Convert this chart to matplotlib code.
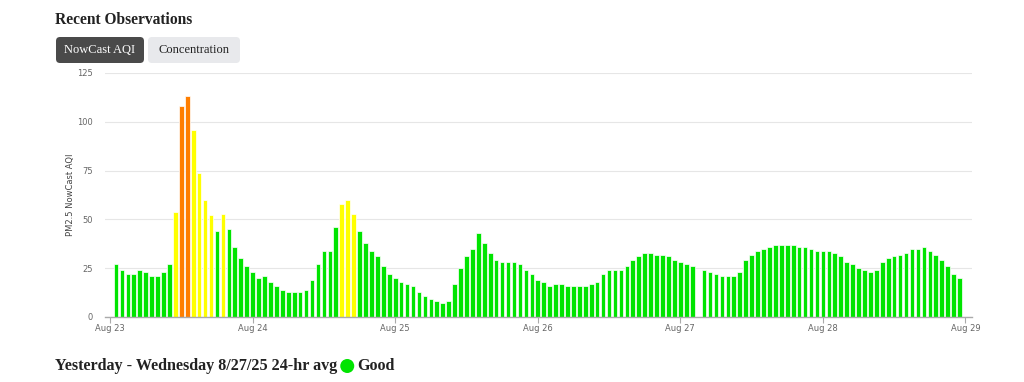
import matplotlib.pyplot as plt
from matplotlib.patches import FancyBboxPatch, Circle
import numpy as np

# Hourly NowCast AQI, hour 1 .. 143 after Aug 23 00:00 (None = missing hour)
aqi = [27, 24, 22, 22, 24, 23, 21, 21, 23, 27,
       54, 108, 113, 96, 74, 60, 52, 44, 53, 45,
       36, 30, 26, 23, 20, 21, 18, 16, 14, 13,
       13, 13, 14, 19, 27, 34, 34, 46, 58, 60,
       53, 44, 38, 34, 31, 26, 22, 20, 18, 17,
       16, 13, 11, 9, 8, 7, 8, 17, 25, 31,
       35, 43, 38, 33, 29, 28, 28, 28, 27, 24,
       22, 19, 18, 16, 17, 17, 16, 16, 16, 16,
       17, 18, 22, 24, 24, 24, 26, 29, 31, 33,
       33, 32, 32, 31, 29, 28, 27, 26, None, 24,
       23, 22, 21, 21, 21, 23, 29, 32, 34, 35,
       36, 37, 37, 37, 37, 36, 36, 35, 34, 34,
       34, 33, 31, 28, 27, 25, 24, 23, 24, 28,
       30, 31, 32, 33, 35, 35, 36, 34, 32, 29,
       26, 22, 20]
hours = list(range(1, len(aqi) + 1))
day_labels = ["Aug 23", "Aug 24", "Aug 25", "Aug 26", "Aug 27", "Aug 28", "Aug 29"]
y_ticks = [0, 25, 50, 75, 100, 125]

def aqi_color(v):
    if v <= 50:
        return "#00e400"
    if v <= 100:
        return "#ffff00"
    return "#ff7e00"

xs = [h for h, v in zip(hours, aqi) if v is not None]
vs = [v for v in aqi if v is not None]
cols = [aqi_color(v) for v in vs]

W, H = 1024, 382
fig = plt.figure(figsize=(W / 100, H / 100), dpi=100)

def fx(px):
    return px / W

def fy(py):
    return 1 - py / H

serif = "Liberation Serif"

# Title
fig.text(fx(55), fy(20), "Recent Observations", fontsize=11.2, fontweight="bold",
         family=serif, color="#222222", va="center", ha="left")

# Buttons
btn1 = FancyBboxPatch((0.56, (H - 63) / 100), 0.88, 0.26,
                      boxstyle="round,pad=0,rounding_size=0.04",
                      transform=fig.dpi_scale_trans, fc="#4a4a4a", ec="none")
btn2 = FancyBboxPatch((1.48, (H - 63) / 100), 0.92, 0.26,
                      boxstyle="round,pad=0,rounding_size=0.04",
                      transform=fig.dpi_scale_trans, fc="#e8e9ec", ec="none")
fig.patches.extend([btn1, btn2])
fig.text(fx(100), fy(50), "NowCast AQI", fontsize=9, family=serif,
         color="white", ha="center", va="center")
fig.text(fx(194), fy(50), "Concentration", fontsize=9, family=serif,
         color="#222222", ha="center", va="center")

# Chart
ax = fig.add_axes([fx(105), fy(317), fx(972) - fx(105), fy(73) - fy(317)])
ax.bar(xs, vs, width=0.78, color=cols, edgecolor="white", linewidth=0.5, zorder=3)
ax.set_xlim(-0.85, 145.1)
ax.set_ylim(0, 125)
ax.set_yticks(y_ticks)
ax.set_yticklabels([str(t) for t in y_ticks])
ax.set_xticks([24 * i for i in range(len(day_labels))])
ax.set_xticklabels(day_labels)
ax.grid(axis="y", color="#e6e6e6", linewidth=0.8, zorder=0)
for side in ["top", "right", "left"]:
    ax.spines[side].set_visible(False)
ax.spines["bottom"].set_color("#aaaaaa")
ax.spines["bottom"].set_linewidth(1)
ax.spines["bottom"].set_zorder(4)
ax.tick_params(axis="y", length=0, pad=9, labelsize=6, labelcolor="#666666")
ax.tick_params(axis="x", length=4, width=0.8, color="#aaaaaa", pad=1,
               labelsize=6, labelcolor="#666666")
ax.set_ylabel("PM2.5 NowCast AQI", fontsize=6, color="#444444", labelpad=1)

# Bottom summary line
t = fig.text(fx(55), fy(366), "Yesterday - Wednesday 8/27/25 24-hr avg",
             fontsize=11.6, fontweight="bold", family=serif, color="#222222",
             va="center", ha="left")
fig.canvas.draw()
bb = t.get_window_extent()
cx = bb.x1 + 10
circ = Circle((cx / 100, (H - 366) / 100), 0.07, transform=fig.dpi_scale_trans,
              fc="#00e400", ec="none")
fig.patches.append(circ)
fig.text((cx + 10) / W, fy(366), "Good", fontsize=11.6, fontweight="bold",
         family=serif, color="#222222", va="center", ha="left")

fig.savefig("out.png", dpi=100)
